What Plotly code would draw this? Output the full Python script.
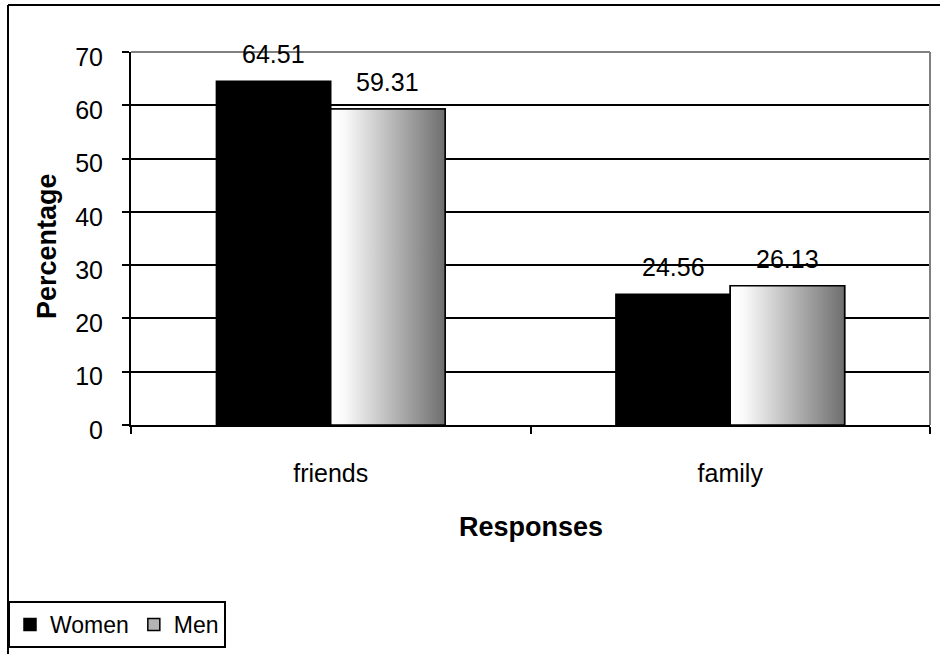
import plotly.graph_objects as go

# Survey responses by group (percent)
categories = ["friends", "family"]
women = [64.51, 24.56]
men = [59.31, 26.13]

FONT = "Liberation Sans, Arial, sans-serif"
W, H = 940, 654
L, R, T, B = 131, 10, 52, 229
BARGAP = 0.4275
BAR_W = (1 - BARGAP) / 2
TXT = 25
TITLE = 27


def px_x(px):
    return (px - L) / (W - L - R)


def px_y(py):
    return (H - B - py) / (H - T - B)


xs = list(range(len(categories)))
fig = go.Figure()

fig.add_trace(go.Bar(
    x=xs, y=women, name="Women",
    marker=dict(color="black", line=dict(color="black", width=1.5)),
))
fig.add_trace(go.Bar(
    x=xs, y=men, name="Men",
    marker=dict(color="#b4b4b4", line=dict(color="black", width=1.5)),
))

# gradient fill over the Men bars (white -> grey, left to right)
for x, v in zip(xs, men):
    x0, x1 = x, x + BAR_W
    fig.add_trace(go.Scatter(
        x=[x0, x1, x1, x0, x0], y=[0, 0, v, v, 0],
        mode="lines", fill="toself",
        fillgradient=dict(type="horizontal",
                          colorscale=[[0, "#ffffff"], [0.12, "#fafafa"], [1, "#6e6e6e"]]),
        line=dict(color="black", width=1.5),
        showlegend=False, hoverinfo="skip",
    ))

# value labels above each bar
for x, v in zip(xs, women):
    fig.add_annotation(x=x - BAR_W / 2, y=v, text=f"{v:.2f}", showarrow=False,
                       yanchor="bottom", yshift=11, font=dict(size=TXT, color="black"))
for x, v in zip(xs, men):
    fig.add_annotation(x=x + BAR_W / 2, y=v, text=f"{v:.2f}", showarrow=False,
                       yanchor="bottom", yshift=11, font=dict(size=TXT, color="black"))

# axis titles
fig.add_annotation(xref="paper", yref="paper", x=px_x(47), y=px_y(246),
                   xanchor="center", yanchor="middle",
                   text="<b>Percentage</b>", textangle=-90, showarrow=False,
                   font=dict(size=TITLE, color="black"))
fig.add_annotation(xref="paper", yref="paper", x=px_x(531), y=px_y(527),
                   xanchor="center", yanchor="middle",
                   text="<b>Responses</b>", showarrow=False,
                   font=dict(size=TITLE, color="black"))

# plot-area frame (top and right, grey) and outer chart frame (top and left)
fig.add_shape(type="line", xref="paper", yref="paper", x0=0, x1=1, y0=1, y1=1,
              line=dict(color="#808080", width=2))
fig.add_shape(type="line", xref="paper", yref="paper", x0=1, x1=1, y0=0, y1=1,
              line=dict(color="#808080", width=2))
fig.add_shape(type="line", xref="paper", yref="paper",
              x0=px_x(8), x1=px_x(W + 5), y0=px_y(5), y1=px_y(5),
              line=dict(color="black", width=2))
fig.add_shape(type="line", xref="paper", yref="paper",
              x0=px_x(8), x1=px_x(8), y0=px_y(5), y1=px_y(H + 5),
              line=dict(color="black", width=2))

fig.update_layout(
    width=W, height=H,
    margin=dict(l=L, r=R, t=T, b=B, autoexpand=False),
    paper_bgcolor="white", plot_bgcolor="white",
    font=dict(family=FONT, size=TXT, color="black"),
    barmode="group", bargap=BARGAP, bargroupgap=0,
    showlegend=True,
    legend=dict(
        orientation="h", x=px_x(8), y=px_y(601), xanchor="left", yanchor="top",
        bordercolor="black", borderwidth=2, bgcolor="white",
        font=dict(size=23, color="black"),
        itemwidth=30, tracegroupgap=0,
    ),
    xaxis=dict(
        range=[-0.5, len(categories) - 0.5],
        tickmode="array", tickvals=xs, ticktext=categories,
        ticks="", showgrid=False, zeroline=False,
        showline=True, linecolor="black", linewidth=2,
        ticklabelstandoff=25,
        minor=dict(tickmode="linear", tick0=-0.5, dtick=1, ticks="outside",
                   ticklen=7, tickwidth=2, tickcolor="black", showgrid=False),
    ),
    yaxis=dict(
        range=[0, 70], dtick=10, tick0=0,
        ticks="outside", ticklen=7, tickwidth=2, tickcolor="black",
        showgrid=True, gridcolor="black", gridwidth=1.5,
        zeroline=False, showline=True, linecolor="black", linewidth=2,
        ticklabelstandoff=14, ticklabelshift=5,
    ),
)

fig.write_html("out.html")
